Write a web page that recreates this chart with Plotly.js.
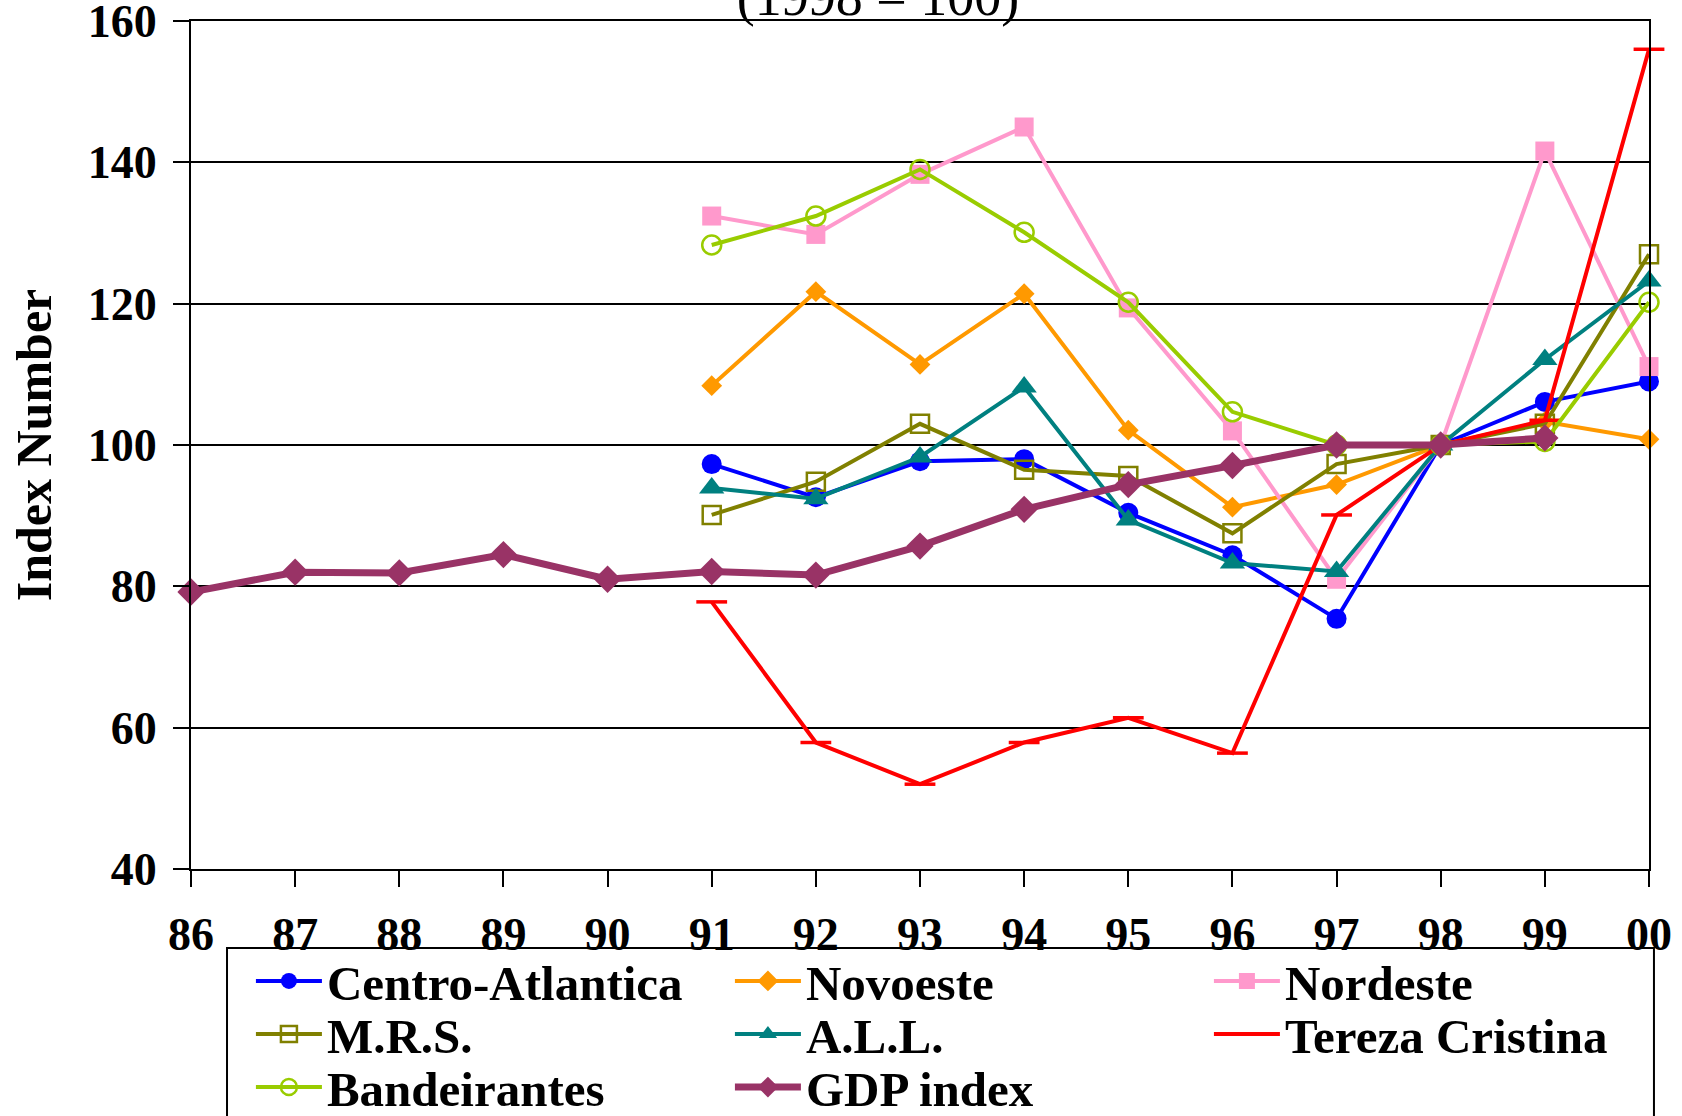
<!DOCTYPE html>
<html>
<head>
<meta charset="utf-8">
<script src="https://cdn.plot.ly/plotly-3.0.1.min.js"></script>
<style>html,body{margin:0;padding:0;background:#fff;}#chart{width:1682px;height:1116px;}</style>
</head>
<body>
<div id="chart"></div>
<script>
const years = ["86","87","88","89","90","91","92","93","94","95","96","97","98","99","00"];
const railYears = ["91","92","93","94","95","96","97","98","99","00"];
const gdpYears = ["86","87","88","89","90","91","92","93","94","95","96","97","98","99"];

const centroAtlantica = [97.3, 92.6, 97.7, 98.0, 90.4, 84.4, 75.4, 100, 106.1, 109.0];
const novoeste        = [108.4, 121.7, 111.4, 121.4, 102.1, 91.2, 94.4, 100, 103.3, 100.8];
const nordeste        = [132.4, 129.8, 138.3, 145.0, 119.4, 102.0, 81.0, 100, 141.6, 111.1];
const mrs             = [90.1, 94.8, 103.0, 96.5, 95.6, 87.5, 97.3, 100, 103.0, 127.0];
const all             = [93.9, 92.4, 98.3, 108.2, 89.4, 83.3, 82.1, 100, 112.1, 123.2];
const terezaCristina  = [77.8, 57.9, 52.0, 57.9, 61.4, 56.4, 90.1, 100, 103.5, 156.0];
const bandeirantes    = [128.3, 132.4, 139.0, 130.1, 120.2, 104.7, 100.0, 100, 100.5, 120.2];
const gdpIndex        = [79.2, 82.0, 81.9, 84.5, 81.0, 82.1, 81.6, 85.7, 90.9, 94.4, 97.1, 100, 100, 101.0];

const yTicks = [40, 60, 80, 100, 120, 140, 160];

const FONT = "Liberation Serif, Times New Roman, serif";

function tr(name, x, y, color, symbol, size, legend, opts) {
  opts = opts || {};
  return {
    type: 'scatter', mode: 'lines+markers', name: name, x: x, y: y,
    legend: legend, cliponaxis: false,
    line: {color: color, width: opts.lw || 4},
    marker: {symbol: symbol, size: size, color: color,
             line: {color: color, width: opts.mlw || 0}}
  };
}

const traces = [
  tr('Centro-Atlantica', railYears, centroAtlantica, '#0000FF', 'circle', 20, 'legend'),
  tr('Novoeste', railYears, novoeste, '#FF9900', 'diamond', 16, 'legend'),
  tr('Nordeste', railYears, nordeste, '#FF99CC', 'square', 19, 'legend'),
  tr('M.R.S.', railYears, mrs, '#808000', 'square-open', 18, 'legend2', {mlw: 2.5}),
  tr('A.L.L.', railYears, all, '#008080', 'triangle-up', 22, 'legend2'),
  tr('Tereza Cristina', railYears, terezaCristina, '#FF0000', 'line-ew', 22, 'legend2', {mlw: 3.5}),
  tr('Bandeirantes', railYears, bandeirantes, '#99CC00', 'circle-open', 19, 'legend3', {mlw: 2.5}),
  tr('GDP index', gdpYears, gdpIndex, '#993366', 'diamond', 21, 'legend3', {lw: 7})
];

function legendRow(y) {
  return {
    orientation: 'h', x: 0.0411, xanchor: 'left', y: y, yanchor: 'middle',
    bgcolor: 'rgba(0,0,0,0)', borderwidth: 0,
    font: {family: FONT, size: 49, color: '#000', weight: 'bold'},
    entrywidth: 398, entrywidthmode: 'pixels', itemwidth: 66,
    traceorder: 'normal', tracegroupgap: 0
  };
}

const layout = {
  width: 1682, height: 1116,
  paper_bgcolor: '#fff', plot_bgcolor: '#fff',
  margin: {l: 191, r: 33, t: 21, b: 247, pad: 0, autoexpand: false},
  font: {family: FONT, color: '#000'},
  title: {text: '(1998 = 100)', font: {family: FONT, size: 54, color: '#000'},
          x: 0.522, xanchor: 'center', xref: 'container',
          y: 0.987, yanchor: 'bottom', yref: 'container', pad: {t: 0, b: 0}},
  showlegend: true,
  legend: legendRow(-0.1322),
  legend2: legendRow(-0.1947),
  legend3: legendRow(-0.2573),
  shapes: [{type: 'rect', xref: 'paper', yref: 'paper', x0: 0.0247, x1: 1.0034, y0: -0.0932, y1: -0.40,
            line: {color: '#000', width: 2}, fillcolor: 'rgba(0,0,0,0)', layer: 'below'}],
  xaxis: {
    type: 'category', categoryorder: 'array', categoryarray: years,
    range: [0, 14], showgrid: false, zeroline: false,
    showline: true, linecolor: '#000', linewidth: 2, mirror: true,
    ticks: 'outside', ticklen: 16, tickwidth: 2, tickcolor: '#000',
    ticklabelstandoff: 8, ticklabeloverflow: 'allow',
    tickfont: {family: FONT, size: 46, color: '#000', weight: 'bold'}
  },
  yaxis: {
    range: [40, 160], tickvals: yTicks, ticktext: yTicks.map(String),
    showgrid: true, gridcolor: '#000', gridwidth: 2, zeroline: false,
    showline: true, linecolor: '#000', linewidth: 2, mirror: true,
    ticks: 'outside', ticklen: 16, tickwidth: 2, tickcolor: '#000',
    ticklabelstandoff: 7, ticklabeloverflow: 'allow',
    tickfont: {family: FONT, size: 46, color: '#000', weight: 'bold'},
    title: {text: 'Index Number', font: {family: FONT, size: 50, color: '#000', weight: 'bold'}, standoff: 20}
  }
};

Plotly.newPlot('chart', traces, layout, {displayModeBar: false, staticPlot: true});
</script>
</body>
</html>
